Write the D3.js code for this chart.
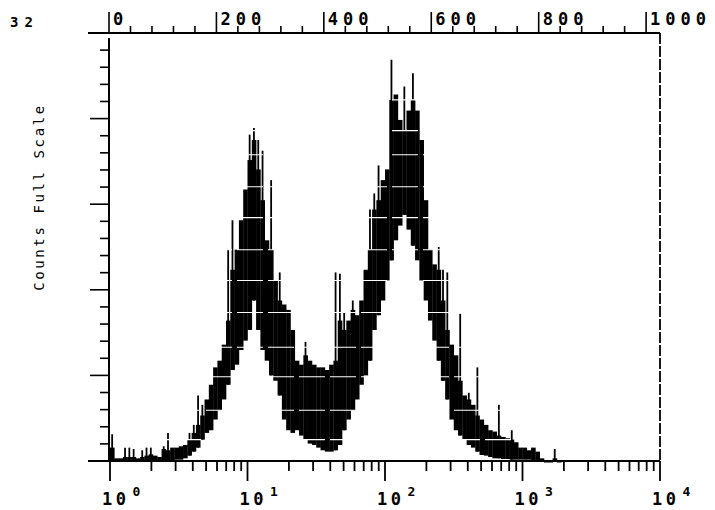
<!DOCTYPE html>
<html>
<head>
<meta charset="utf-8">
<script src="https://cdn.jsdelivr.net/npm/d3@7"></script>
<style>
  body { margin: 0; background: #fff; }
  svg text { font-family: "DejaVu Sans Mono", "Liberation Mono", monospace; fill: #000; }
</style>
</head>
<body>
<svg id="chart" width="715" height="510"></svg>
<script>
// channel histogram, 1024 channels = 4 decades, bins of 8 channels
var binSize = 8;
// top of the noisy band (counts), per bin
var bandHi = [1,0.2,0.2,0.3,0.3,0.3,0.2,0.3,0.4,0.5,0.4,0.3,0.9,0.8,1,1,1.1,1.2,1.6,2.1,
  2.7,3.4,4.6,5.7,7.0,7.5,8.7,10.5,14.3,15.8,18,20.3,22.5,24,21.8,19.5,16.5,15.8,13.5,12,
  11.7,11.3,9.8,7.5,7.2,7.9,7.5,7.2,7.0,7.0,6.8,7.2,7.5,10.5,9.8,10.5,11.3,10.9,12,14.3,
  15.8,18.8,19.5,21,21.8,27,27.4,25.5,24.7,26.2,27,26.2,24,19.5,15.8,14.7,14.3,12,9.8,8.7,
  7.9,6,4.9,4.6,4.2,3.4,3.1,2.7,2.3,2.2,1.9,1.8,1.7,1.6,1.4,1.0,1.0,0.8,1.0,0.7,
  0.2,0,0,0.2,0];
// bottom of the band (counts), per bin
var bandLo = [0,0,0,0,0,0,0,0,0,0,0,0,0,0,0,0.1,0.1,0.2,0.4,0.7,
  1.0,1.6,2.1,2.3,3.1,3.8,4.6,5.7,6.8,7.2,8.3,9.0,9.8,12,9.8,8.3,7.5,6.4,6,4.9,
  3.1,2.3,2.1,2.3,1.9,1.6,1.3,1.2,1.0,0.8,0.7,0.7,0.8,1.2,2.3,3.1,3.8,4.6,5.7,6.4,
  7.5,9.8,10.9,12,13.5,15,16.5,17.6,18.4,17.3,16.1,15,13.5,12,10.5,9,7.5,6,4.6,3.1,
  2.3,1.9,1.6,1.2,1,0.7,0.45,0.4,0.3,0.2,0.2,0.15,0.15,0.1,0.1,0.1,0.1,0.1,0,0,
  0,0,0,0,0];
// single-channel spikes above the band (counts), 0 = none
var spikes = [2,0,0,1,1,0.9,0,0.8,1,1,0,0,1.1,2.1,0,0,0,0,2.1,2.7,
  4.9,4.2,0,0,0,0,0,15.8,18,0,0,0,24.4,24.9,24,23.2,0,21,0,14.1,
  0,0,0,0,0,8.9,0,0,0,0,0,0,14.1,14,11.1,0,12,0,0,0,
  18.8,20,22.1,0,0,30,0,0,28,0,29,0,0,0,0,0,16,14.3,14.1,0,
  0,11,0,5.1,0,7,0,0,0,0,4.2,0,0,2.3,0,0,0,0,0,0,
  0,0,0,0.9,0];
// light gaps left by the plotter passes (counts)
var streaks = [1.6,3.8,6.3,8.5,11.1,13.5,15.8,18.2,20.5,22.9,24.7,27];

var fullScale = 32;
var topTicks = d3.range(0, 1001, 40);
var topLabels = [0, 200, 400, 600, 800, 1000];
var decades = [0, 1, 2, 3, 4];
var yMajor = d3.range(0, 1.0001, 0.2).map(function(f){ return f * fullScale; });
var yMinor = d3.range(0, 1.0001, 0.04).map(function(f){ return f * fullScale; });

var svg = d3.select("#chart");
var padL = 110, padR = 660, padT = 33, padB = 461;

var xChan = d3.scaleLinear().domain([0, 1024]).range([padL, padR]);
var xLog = d3.scaleLog().domain([1, 10000]).range([padL, padR]);
var y = d3.scaleLinear().domain([0, fullScale]).range([padB, padT]);

// histogram band
var g = svg.append("g");
var bw = xChan(binSize) - xChan(0);
g.selectAll("rect.band")
  .data(bandHi)
  .enter().append("rect")
  .attr("class", "band")
  .attr("x", function(d, i){ return xChan(i * binSize); })
  .attr("width", bw + 0.3)
  .attr("y", function(d){ return y(d); })
  .attr("height", function(d, i){ return Math.max(1.5, y(bandLo[i]) - y(d)); })
  .attr("fill", "#000");

var spikeData = spikes.map(function(v, i){ return {bin: i, v: v}; })
  .filter(function(d){ return d.v > 0; });
g.selectAll("line.spike")
  .data(spikeData)
  .enter().append("line")
  .attr("class", "spike")
  .attr("x1", function(d){ return xChan(d.bin * binSize + binSize / 2); })
  .attr("x2", function(d){ return xChan(d.bin * binSize + binSize / 2); })
  .attr("y1", function(d){ return y(bandLo[d.bin]); })
  .attr("y2", function(d){ return y(d.v); })
  .attr("stroke", "#000")
  .attr("stroke-width", 1.8);

g.selectAll("line.streak")
  .data(streaks)
  .enter().append("line")
  .attr("x1", padL + 3).attr("x2", padR - 8)
  .attr("y1", function(d){ return y(d); })
  .attr("y2", function(d){ return y(d); })
  .attr("stroke", "#fff")
  .attr("stroke-width", 1.1)
  .attr("stroke-dasharray", "26,5");

// axes
var ax = svg.append("g").attr("stroke", "#000").attr("fill", "none");
ax.append("line").attr("x1", 88).attr("x2", padR).attr("y1", padT).attr("y2", padT).attr("stroke-width", 2);
ax.append("line").attr("x1", 88).attr("x2", padR).attr("y1", padB).attr("y2", padB).attr("stroke-width", 2);
ax.append("line").attr("x1", padL - 1).attr("x2", padL - 1).attr("y1", padT + 5).attr("y2", padB).attr("stroke-width", 2);
ax.append("line").attr("x1", padR).attr("x2", padR).attr("y1", padT).attr("y2", padB)
  .attr("stroke-width", 1.8).attr("stroke-dasharray", "11,2");

// top channel axis
ax.selectAll("line.tt").data(topTicks).enter().append("line")
  .attr("x1", function(d){ return xChan(d) - 1; })
  .attr("x2", function(d){ return xChan(d) - 1; })
  .attr("y1", padT)
  .attr("y2", function(d){ return topLabels.indexOf(d) >= 0 ? 12 : padT - 7; })
  .attr("stroke-width", 1.6);
svg.selectAll("text.tl").data(topLabels).enter().append("text")
  .attr("x", function(d){ return xChan(d) + 3; })
  .attr("y", 25)
  .attr("font-size", 17)
  .attr("font-weight", "bold")
  .attr("letter-spacing", 5)
  .text(function(d){ return d; });

// bottom log axis
var logTicks = [];
decades.slice(0, 4).forEach(function(p){
  for (var m = 1; m < 10; m++) logTicks.push(m * Math.pow(10, p));
});
logTicks.push(10000);
ax.selectAll("line.bt").data(logTicks).enter().append("line")
  .attr("x1", function(d){ return xLog(d); })
  .attr("x2", function(d){ return xLog(d); })
  .attr("y1", padB)
  .attr("y2", function(d){ return Math.abs(Math.log10(d) % 1) < 1e-9 ? padB + 20 : padB + 10; })
  .attr("stroke-width", 1.8);
var bl = svg.selectAll("text.bl").data(decades).enter().append("text")
  .attr("x", function(d){ return xLog(Math.pow(10, d)) - 8; })
  .attr("y", 505)
  .attr("font-size", 17)
  .attr("font-weight", "bold")
  .attr("letter-spacing", 3.5);
bl.append("tspan").text("10");
bl.append("tspan").attr("dx", 3).attr("dy", -9).attr("font-size", 13).text(function(d){ return d; });

// left counts axis
ax.selectAll("line.ym").data(yMinor).enter().append("line")
  .attr("x1", function(d){ return yMajor.some(function(v){ return Math.abs(v - d) < 1e-6; }) ? padL - 20 : padL - 10; })
  .attr("x2", padL - 1)
  .attr("y1", function(d){ return y(d); })
  .attr("y2", function(d){ return y(d); })
  .attr("stroke-width", 1.6);

svg.append("text")
  .attr("x", 10).attr("y", 27)
  .attr("font-size", 14)
  .attr("font-weight", "bold")
  .attr("letter-spacing", 6)
  .text(fullScale);

svg.append("text")
  .attr("transform", "translate(44,197) rotate(-90)")
  .attr("text-anchor", "middle")
  .attr("font-size", 14)
  .attr("letter-spacing", 2.6)
  .text("Counts Full Scale");
</script>
</body>
</html>
